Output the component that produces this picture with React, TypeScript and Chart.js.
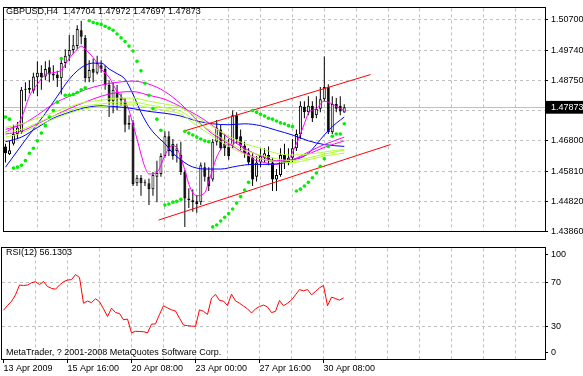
import React, { useEffect, useRef } from "react";
import { Chart, registerables } from "chart.js";

Chart.register(...registerables);

const FONT = '"Liberation Sans", Arial, sans-serif';

// ---- Price data (GBPUSD H4) ----
const opens = [1.4661,1.4636,1.4670,1.4701,1.4707,1.4844,1.4844,1.4841,1.4884,1.4899,
 1.4887,1.4917,1.4896,1.4893,1.4881,1.4930,1.4954,1.4972,1.4985,1.5036,
 1.5012,1.4881,1.4911,1.4899,1.4923,1.4911,1.4859,1.4807,1.4838,1.4817,
 1.4807,1.4731,1.4737,1.4542,1.4560,1.4542,1.4542,1.4523,1.4563,1.4572,
 1.4630,1.4694,1.4670,1.4646,1.4633,1.4578,1.4493,1.4487,1.4484,1.4481,
 1.4594,1.4563,1.4554,1.4676,1.4716,1.4670,1.4661,1.4664,1.4762,1.4694,
 1.4664,1.4639,1.4624,1.4563,1.4609,1.4624,1.4633,1.4609,1.4554,1.4569,
 1.4633,1.4609,1.4624,1.4655,1.4701,1.4789,1.4771,1.4792,1.4762,1.4783,
 1.4813,1.4853,1.4707,1.4798,1.4792,1.47704];
const highs = [1.4670,1.4679,1.4731,1.4740,1.4853,1.4868,1.4875,1.4899,1.4936,1.4923,
 1.4936,1.4939,1.4923,1.4905,1.4945,1.4975,1.5021,1.5021,1.5052,1.5067,
 1.5021,1.4939,1.4945,1.4954,1.4939,1.4923,1.4875,1.4868,1.4859,1.4832,
 1.4817,1.4762,1.4746,1.4569,1.4569,1.4554,1.4557,1.4578,1.4615,1.4639,
 1.4710,1.4710,1.4685,1.4670,1.4676,1.4585,1.4526,1.4523,1.4502,1.4609,
 1.4609,1.4594,1.4685,1.4746,1.4731,1.4701,1.4685,1.4777,1.4771,1.4716,
 1.4676,1.4655,1.4639,1.4630,1.4655,1.4655,1.4661,1.4624,1.4588,1.4655,
 1.4670,1.4655,1.4685,1.4716,1.4807,1.4807,1.4823,1.4807,1.4823,1.4853,
 1.4951,1.4862,1.4823,1.4817,1.4823,1.47972];
const lows = [1.4609,1.4633,1.4664,1.4685,1.4701,1.4807,1.4832,1.4832,1.4823,1.4844,
 1.4875,1.4868,1.4875,1.4853,1.4829,1.4914,1.4936,1.4960,1.4975,1.4991,
 1.4868,1.4868,1.4868,1.4893,1.4899,1.4844,1.4756,1.4768,1.4777,1.4792,
 1.4707,1.4716,1.4533,1.4533,1.4502,1.4533,1.4472,1.4502,1.4481,1.4563,
 1.4624,1.4630,1.4618,1.4609,1.4569,1.4401,1.4462,1.4450,1.4447,1.4472,
 1.4548,1.4517,1.4548,1.4664,1.4649,1.4630,1.4618,1.4655,1.4670,1.4649,
 1.4624,1.4600,1.4533,1.4548,1.4594,1.4609,1.4600,1.4517,1.4517,1.4563,
 1.4588,1.4600,1.4609,1.4646,1.4685,1.4752,1.4762,1.4740,1.4752,1.4771,
 1.4807,1.4701,1.4701,1.4771,1.4762,1.47697];
const closes = [1.4639,1.4649,1.4701,1.4722,1.4844,1.4847,1.4850,1.4887,1.4899,1.4884,
 1.4911,1.4893,1.4890,1.4881,1.4930,1.4954,1.4972,1.4988,1.5040,1.5015,
 1.4881,1.4908,1.4899,1.4930,1.4911,1.4859,1.4807,1.4844,1.4817,1.4810,
 1.4731,1.4737,1.4539,1.4560,1.4542,1.4545,1.4523,1.4569,1.4575,1.4630,
 1.4694,1.4646,1.4630,1.4655,1.4578,1.4493,1.4487,1.4481,1.4475,1.4600,
 1.4563,1.4533,1.4676,1.4722,1.4655,1.4655,1.4630,1.4762,1.4685,1.4664,
 1.4639,1.4609,1.4554,1.4609,1.4630,1.4639,1.4618,1.4554,1.4569,1.4633,
 1.4609,1.4624,1.4655,1.4701,1.4792,1.4771,1.4792,1.4752,1.4783,1.4813,
 1.4853,1.4707,1.4798,1.4783,1.4774,1.47873];

// Parabolic SAR
const sar = [1.4756,1.4749,1.4591,1.4594,1.4600,1.4615,1.4639,1.4655,1.4679,1.4704,
 1.4728,1.4756,1.4777,1.4804,1.4945,1.4826,1.4826,1.4829,1.4835,1.4844,
 1.4850,1.5067,1.5061,1.5058,1.5055,1.5049,1.5043,1.5036,1.5024,1.5012,
 1.5000,1.4985,1.4969,1.4936,1.4905,1.4865,1.4826,1.4783,1.4749,1.4713,
 1.4472,1.4475,1.4481,1.4484,1.4490,1.4710,1.4704,1.4698,1.4691,1.4685,
 1.4679,1.4676,1.4401,1.4407,1.4420,1.4432,1.4444,1.4459,1.4478,1.4499,
 1.4520,1.4545,1.4777,1.4771,1.4765,1.4759,1.4752,1.4749,1.4743,1.4737,
 1.4734,1.4728,1.4725,1.4517,1.4523,1.4533,1.4545,1.4560,1.4575,1.4597,
 1.4621,1.4661,1.4694,1.4701,1.4701,1.4734];

// RSI(12)
const rsi = [44.9,49.2,53.0,58.9,67.8,67.4,67.8,69.9,70.8,68.2,
 71.0,66.5,64.8,64.0,67.8,70.8,72.3,72.7,77.3,74.6,
 51.3,53.2,51.9,55.3,52.7,46.2,39.2,46.8,42.8,41.9,
 36.3,36.9,24.4,25.8,25.6,25.4,24.4,32.2,32.6,41.1,
 49.0,47.0,45.3,44.2,37.7,31.5,30.9,30.5,30.3,45.3,
 43.9,41.1,55.9,59.3,53.8,53.2,49.2,59.5,53.4,51.3,
 48.7,46.2,42.4,46.2,48.3,49.6,47.9,42.8,43.9,53.8,
 49.0,51.3,54.2,58.9,63.7,62.5,63.7,58.9,61.9,65.3,
 67.4,49.0,56.8,55.5,54.1,56.13];

// Moving averages read at sample bars
const slowBars = [0,4,8,12,16,20,24,28,32,36,40,44,48,52,56,60,64,68,72,76,80,85];
const magentaMid = [1.4716,1.4731,1.4762,1.4798,1.4823,1.4844,1.4859,1.4868,1.4872,1.4862,1.4838,1.4798,1.4746,1.4701,1.4670,1.4639,1.4621,1.4612,1.4618,1.4643,1.4667,1.4691];
const magentaSlow = [1.4701,1.4710,1.4734,1.4759,1.4783,1.4804,1.4823,1.4835,1.4838,1.4826,1.4813,1.4789,1.4762,1.4728,1.4688,1.4655,1.4630,1.4615,1.4618,1.4636,1.4658,1.4679];
const greenA = [1.4722,1.4734,1.4752,1.4771,1.4789,1.4804,1.4810,1.4817,1.4817,1.4807,1.4798,1.4786,1.4756,1.4725,1.4694,1.4670,1.4655,1.4639,1.4633,1.4636,1.4643,1.4652];
const greenB = [1.4707,1.4716,1.4737,1.4759,1.4777,1.4792,1.4798,1.4804,1.4804,1.4795,1.4786,1.4774,1.4740,1.4707,1.4673,1.4649,1.4633,1.4621,1.4615,1.4624,1.4636,1.4649];
const greenC = [1.4691,1.4704,1.4728,1.4749,1.4768,1.4783,1.4789,1.4795,1.4795,1.4786,1.4777,1.4765,1.4728,1.4694,1.4661,1.4636,1.4621,1.4612,1.4609,1.4618,1.4630,1.4639];
const blueSlow = [1.4676,1.4691,1.4722,1.4752,1.4771,1.4786,1.4792,1.4789,1.4783,1.4774,1.4768,1.4759,1.4743,1.4734,1.4731,1.4734,1.4728,1.4713,1.4698,1.4679,1.4667,1.4661];

const blueFastBars = [0,5,10,13,16,18,20,22,24,26,28,30,32,34,36,38,40,42,44,46,48,50,54,58,62,66,70,72,74,76,78,80,82,84,85];
const blueFast = [1.4594,1.4682,1.4768,1.4823,1.4878,1.4905,1.4923,1.4930,1.4930,1.4911,1.4896,1.4878,1.4829,1.4771,1.4725,1.4694,1.4670,1.4639,1.4618,1.4600,1.4591,1.4588,1.4588,1.4597,1.4603,1.4603,1.4609,1.4618,1.4624,1.4639,1.4667,1.4698,1.4725,1.4746,1.4756];

const magentaFastBars = [0,2,4,6,8,10,12,14,16,18,19,20,22,24,26,28,30,31,32,33,34,35,36,38,39,40,42,43,45,46,47,48,50,51,52,53,55,57,58,60,62,64,66,67,70,71,73,74,75,76,78,80,82,84,85];
const magentaFast = [1.4707,1.4722,1.4752,1.4823,1.4862,1.4893,1.4899,1.4908,1.4945,1.4975,1.4985,1.4975,1.4948,1.4911,1.4884,1.4838,1.4807,1.4777,1.4731,1.4685,1.4636,1.4594,1.4572,1.4578,1.4600,1.4633,1.4664,1.4655,1.4585,1.4539,1.4511,1.4502,1.4511,1.4548,1.4588,1.4627,1.4664,1.4667,1.4676,1.4649,1.4621,1.4612,1.4606,1.4603,1.4609,1.4618,1.4670,1.4701,1.4734,1.4768,1.4783,1.4807,1.4798,1.4783,1.4777];

// Trend channel lines (bar, price)
const upperTrendBars = [44.9, 91.6];
const upperTrendPrices = [1.4711, 1.4893];
const lowerTrendBars = [38.4, 96.6];
const lowerTrendPrices = [1.4423, 1.4667];

// Axis labels
const priceTickValues = [1.43860, 1.44837, 1.45814, 1.46791, 1.47768, 1.48746, 1.49723, 1.50700];
const priceTickLabels = ["1.43860", "1.44820", "1.45810", "1.46800", "", "1.48750", "1.49740", "1.50700"];
const currentPrice = 1.47873;
const rsiTickValues = [6.6, 30, 70, 95.1];
const rsiTickLabels = ["0", "30", "70", "100"];
const timeLabels = ["13 Apr 2009", "15 Apr 16:00", "20 Apr 08:00", "23 Apr 00:00", "27 Apr 16:00", "30 Apr 08:00"];
const gridBars = [0, 8, 16, 24, 32, 40, 48, 56, 64, 72, 80, 88, 96, 104, 112, 120, 128];

const headerText = "GBPUSD,H4  1.47704 1.47972 1.47697 1.47873";
const rsiText = "RSI(12) 56.1303";
const copyrightText = "MetaTrader, ? 2001-2008 MetaQuotes Software Corp.";

const X_MIN = -0.375;
const X_MAX = 135.375;
const P_MIN = 1.43859;
const P_MAX = 1.51067;
const R_MIN = 0.64;
const R_MAX = 101.06;

const pts = (xs: number[], ys: number[]) => xs.map((x, i) => ({ x, y: ys[i] }));

const framePlugin = {
  id: "frame",
  afterDraw(chart: any) {
    const { ctx, chartArea: a } = chart;
    ctx.save();
    ctx.strokeStyle = "#000";
    ctx.lineWidth = 1;
    ctx.strokeRect(Math.round(a.left) - 0.5, Math.round(a.top) - 0.5, Math.round(a.right - a.left) + 1, Math.round(a.bottom - a.top) + 1);
    ctx.restore();
  },
};

const makeTextPlugin = (items: { text: string; x: number; y: number }[]) => ({
  id: "texts",
  afterDraw(chart: any) {
    const { ctx } = chart;
    ctx.save();
    ctx.font = `9px ${FONT}`;
    ctx.fillStyle = "#000";
    ctx.textBaseline = "alphabetic";
    ctx.textAlign = "left";
    items.forEach((it) => ctx.fillText(it.text, it.x, it.y));
    ctx.restore();
  },
});

const lineDs = (label: string, data: any[], color: string) => ({
  type: "line" as const,
  label,
  data,
  borderColor: color,
  borderWidth: 1,
  pointRadius: 0,
  fill: false,
  cubicInterpolationMode: "monotone" as const,
  order: 2,
});

export default function App() {
  const mainRef = useRef<HTMLCanvasElement>(null);
  const rsiRef = useRef<HTMLCanvasElement>(null);

  useEffect(() => {
    Chart.defaults.font.family = FONT;
    Chart.defaults.font.size = 9;
    Chart.defaults.color = "#000";

    const bodies = opens.map((o, i) => ({ x: i, y: [o, closes[i]] }));
    const bodyColors = opens.map((o, i) => (closes[i] >= o ? "#ffffff" : "#000000"));
    const wicks = lows.map((l, i) => ({ x: i, y: [l, highs[i]] }));

    const main = new Chart(mainRef.current as HTMLCanvasElement, {
      type: "bar",
      data: {
        datasets: [
          {
            type: "line",
            label: "SAR",
            data: pts(sar.map((_, i) => i), sar),
            showLine: false,
            pointRadius: 1.8,
            pointStyle: "circle",
            pointBackgroundColor: "#00f000",
            pointBorderWidth: 0,
            order: 0,
          } as any,
          lineDs("Upper trend", pts(upperTrendBars, upperTrendPrices), "#ff0000"),
          lineDs("Lower trend", pts(lowerTrendBars, lowerTrendPrices), "#ff0000"),
          lineDs("Green A", pts(slowBars, greenA), "#adff2f"),
          lineDs("Green B", pts(slowBars, greenB), "#adff2f"),
          lineDs("Green C", pts(slowBars, greenC), "#adff2f"),
          lineDs("Magenta mid", pts(slowBars, magentaMid), "#ff00ff"),
          lineDs("Magenta slow", pts(slowBars, magentaSlow), "#ff00ff"),
          lineDs("Blue slow", pts(slowBars, blueSlow), "#0000ff"),
          lineDs("Blue fast", pts(blueFastBars, blueFast), "#0000ff"),
          lineDs("Magenta fast", pts(magentaFastBars, magentaFast), "#ff00ff"),
          {
            type: "bar",
            label: "Bodies",
            data: bodies,
            backgroundColor: bodyColors,
            borderColor: "#000000",
            borderWidth: 1,
            borderSkipped: false,
            barThickness: 3,
            grouped: false,
            inflateAmount: 0,
            order: 5,
          } as any,
          {
            type: "bar",
            label: "Wicks",
            data: wicks,
            backgroundColor: "#000000",
            borderWidth: 0,
            barThickness: 1,
            grouped: false,
            inflateAmount: 0,
            order: 6,
          } as any,
        ],
      },
      options: {
        responsive: false,
        animation: false,
        events: [],
        layout: { padding: { left: 2, top: 2, right: 0, bottom: 0 } },
        plugins: { legend: { display: false }, tooltip: { enabled: false } },
        scales: {
          x: {
            type: "linear",
            min: X_MIN,
            max: X_MAX,
            offset: false,
            afterBuildTicks: (s: any) => {
              s.ticks = gridBars.filter((v) => v > 0).map((v) => ({ value: v }));
            },
            afterFit: (s: any) => {
              s.height = 2;
            },
            ticks: { display: false },
            grid: { color: "#c0c0c0", drawTicks: false, offset: false },
            border: { display: false, dash: [3, 3] },
          },
          y: {
            type: "linear",
            position: "right",
            min: P_MIN,
            max: P_MAX,
            afterBuildTicks: (s: any) => {
              const vals = [...priceTickValues, currentPrice].sort((a, b) => a - b);
              s.ticks = vals.map((v) => ({ value: v }));
            },
            afterFit: (s: any) => {
              s.width = 38;
            },
            ticks: {
              autoSkip: false,
              padding: 3,
              callback: (v: any) => {
                if (Math.abs(v - currentPrice) < 1e-7) return "1.47873";
                const idx = priceTickValues.findIndex((p) => Math.abs(p - v) < 1e-7);
                return idx >= 0 ? priceTickLabels[idx] : "";
              },
              color: (ctx: any) => (ctx.tick && Math.abs(ctx.tick.value - currentPrice) < 1e-7 ? "#ffffff" : "#000000"),
              showLabelBackdrop: (ctx: any) => !!(ctx.tick && Math.abs(ctx.tick.value - currentPrice) < 1e-7),
              backdropColor: "#000000",
              backdropPadding: { left: 5, right: 6, top: 1, bottom: 1 },
            } as any,
            grid: {
              color: "#c0c0c0",
              tickLength: 3,
              tickColor: (ctx: any) => (ctx.tick && Math.abs(ctx.tick.value - 1.47768) < 1e-7 ? "rgba(0,0,0,0)" : "#000000"),
              tickBorderDash: [],
            } as any,
            border: {
              display: false,
              dash: (ctx: any) => (ctx.tick && Math.abs(ctx.tick.value - currentPrice) < 1e-7 ? [] : [3, 3]),
            } as any,
          },
        },
      },
      plugins: [framePlugin, makeTextPlugin([{ text: headerText, x: 6, y: 14 }])],
    } as any);

    const rsiChart = new Chart(rsiRef.current as HTMLCanvasElement, {
      type: "line",
      data: {
        datasets: [
          {
            label: "RSI(12)",
            data: pts(rsi.map((_, i) => i), rsi),
            borderColor: "#ff0000",
            borderWidth: 1,
            pointRadius: 0,
            fill: false,
            tension: 0,
          },
        ],
      },
      options: {
        responsive: false,
        animation: false,
        events: [],
        layout: { padding: { left: 2, top: 1, right: 0, bottom: 0 } },
        plugins: { legend: { display: false }, tooltip: { enabled: false } },
        scales: {
          x: {
            type: "linear",
            min: X_MIN,
            max: X_MAX,
            offset: false,
            afterBuildTicks: (s: any) => {
              s.ticks = gridBars.map((v) => ({ value: v }));
            },
            afterFit: (s: any) => {
              s.height = 17;
            },
            ticks: {
              autoSkip: false,
              maxRotation: 0,
              minRotation: 0,
              align: "start",
              padding: 0,
              callback: (v: any) => (v % 16 === 0 && v / 16 < timeLabels.length ? timeLabels[v / 16] : ""),
            },
            grid: {
              color: (ctx: any) => (ctx.tick && ctx.tick.value === 0 ? "rgba(0,0,0,0)" : "#c0c0c0"),
              tickLength: 4,
              tickColor: (ctx: any) =>
                ctx.tick && ctx.tick.value % 16 === 0 && ctx.tick.value / 16 < timeLabels.length ? "#000000" : "rgba(0,0,0,0)",
              tickBorderDash: [],
              offset: false,
            } as any,
            border: { display: false, dash: [3, 3] },
          },
          y: {
            type: "linear",
            position: "right",
            min: R_MIN,
            max: R_MAX,
            afterBuildTicks: (s: any) => {
              s.ticks = rsiTickValues.map((v) => ({ value: v }));
            },
            afterFit: (s: any) => {
              s.width = 38;
            },
            ticks: {
              autoSkip: false,
              padding: 3,
              callback: (v: any) => {
                const idx = rsiTickValues.indexOf(v);
                return idx >= 0 ? rsiTickLabels[idx] : "";
              },
            },
            grid: {
              color: (ctx: any) => (ctx.tick && (ctx.tick.value === 30 || ctx.tick.value === 70) ? "#c0c0c0" : "rgba(0,0,0,0)"),
              tickLength: 3,
              tickColor: "#000000",
              tickBorderDash: [],
            } as any,
            border: { display: false, dash: [3, 3] },
          },
        },
      },
      plugins: [
        framePlugin,
        makeTextPlugin([
          { text: rsiText, x: 6, y: 15 },
          { text: copyrightText, x: 6, y: 115 },
        ]),
      ],
    } as any);

    return () => {
      main.destroy();
      rsiChart.destroy();
    };
  }, []);

  return (
    <div style={{ position: "fixed", left: 0, top: 0, width: 583, height: 376, background: "#ffffff", overflow: "hidden" }}>
      <canvas ref={mainRef} width={583} height={240} style={{ position: "absolute", left: 0, top: 0 }} />
      <canvas ref={rsiRef} width={583} height={136} style={{ position: "absolute", left: 0, top: 240 }} />
    </div>
  );
}
